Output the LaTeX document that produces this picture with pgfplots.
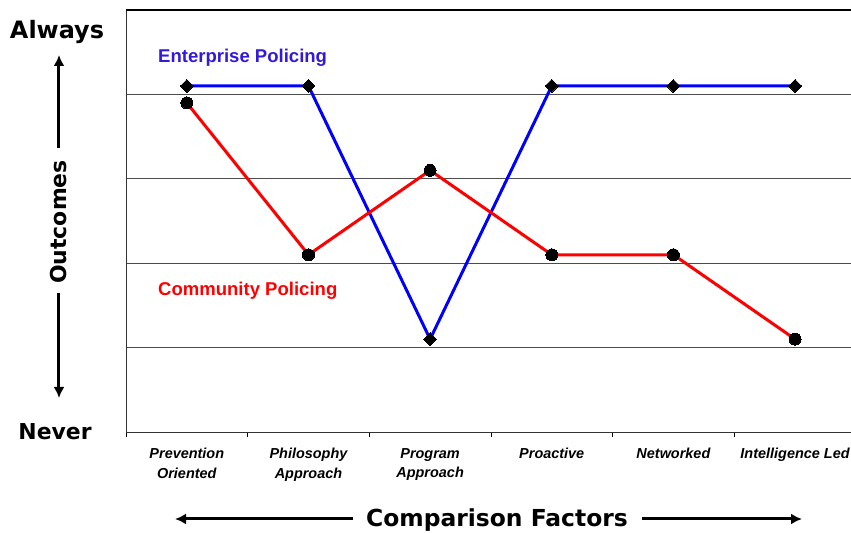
\documentclass[border=0pt]{standalone}
\usepackage{pgfplots}
\pgfplotsset{compat=1.18}
\usepackage{fontspec}
\setmainfont{Liberation Sans}
\newfontfamily\dejavu{DejaVu Sans}
\usetikzlibrary{arrows.meta}
\definecolor{entblue}{rgb}{0,0,1}
\definecolor{enttext}{rgb}{0.2,0.1,0.85}
\definecolor{comred}{rgb}{1,0,0}
\begin{document}
\begin{tikzpicture}[x=1bp,y=1bp]
\useasboundingbox (-126,-101) rectangle (725,432);
\begin{axis}[
  at={(0,0)}, anchor=south west,
  width=725bp, height=422bp, scale only axis,
  xmin=-0.5, xmax=5.46, ymin=0, ymax=5,
  axis x line*=bottom, axis y line*=left,
  axis line style={black!80, line width=0.8bp},
  xtick={0,1,2,3,4,5},
  xticklabels={{Prevention\\Oriented},{Philosophy\\Approach},{Program\\Approach},{Proactive},{Networked},{Intelligence Led}},
  xticklabel style={align=center, font=\bfseries\itshape\fontsize{14.5}{19.5}\selectfont, anchor=north, yshift=-13bp},
  minor xtick={-0.5,0.5,1.5,2.5,3.5,4.5},
  major tick length=0pt, minor tick length=5bp, tick align=outside,
  tick style={black, line width=0.8bp},
  ytick={1,2,3,4}, yticklabels={},
  ymajorgrids, major grid style={black!70, line width=0.8bp},
  clip=false,
]
\addplot[entblue, line width=3bp, mark=square*, mark size=4.6bp, mark options={black, rotate=45, line width=0pt}]
  coordinates {(0,4.1) (1,4.1) (2,1.1) (3,4.1) (4,4.1) (5,4.1)};
\addplot[comred, line width=3bp, mark=*, mark size=6bp, mark options={black, line width=0pt}]
  coordinates {(0,3.9) (1,2.1) (2,3.1) (3,2.1) (4,2.1) (5,1.1)};
\node[anchor=west, inner sep=0pt, text=enttext, font=\bfseries\fontsize{18.6}{20}\selectfont] at (axis cs:-0.237,4.44) {Enterprise Policing};
\node[anchor=west, inner sep=0pt, text=comred, font=\bfseries\fontsize{18.6}{20}\selectfont] at (axis cs:-0.237,1.67) {Community Policing};
\draw[black, line width=2bp] (rel axis cs:0,1) -- (rel axis cs:1,1);
\end{axis}
\node[anchor=base, inner sep=0pt, font=\dejavu\bfseries\fontsize{24}{26}\selectfont] at (-69,393) {Always};
\node[anchor=base, inner sep=0pt, font=\dejavu\bfseries\fontsize{22}{24}\selectfont] at (-71,-8) {Never};
\node[rotate=90, inner sep=0pt, font=\dejavu\bfseries\fontsize{22}{24}\selectfont] at (-67,210) {Outcomes};
\draw[line width=3bp, -{Latex[length=11bp,width=11bp]}] (-67,284) -- (-67,377);
\draw[line width=3bp, -{Latex[length=11bp,width=11bp]}] (-67,139) -- (-67,34);
\node[anchor=base, inner sep=0pt, font=\dejavu\bfseries\fontsize{23.5}{25}\selectfont] at (371,-95) {Comparison Factors};
\draw[line width=3bp, -{Latex[length=11bp,width=11bp]}] (227,-87) -- (49,-87);
\draw[line width=3bp, -{Latex[length=11bp,width=11bp]}] (516,-87) -- (676,-87);
\end{tikzpicture}
\end{document}
